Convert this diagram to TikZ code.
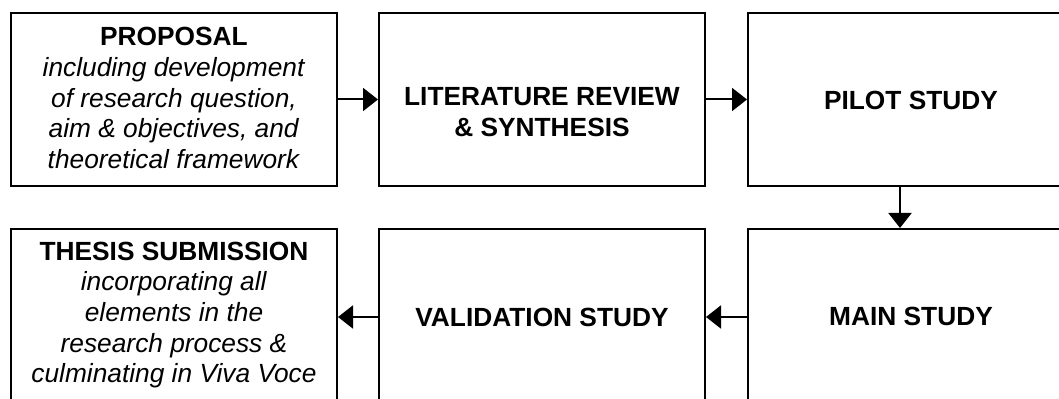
\documentclass[tikz,border=0pt]{standalone}
\usepackage{fontspec}
\setmainfont{Liberation Sans}
\usetikzlibrary{arrows.meta}
\begin{document}
\begin{tikzpicture}[x=0.5pt,y=-0.5pt,
  stage/.style={draw=black, line width=1pt, minimum width=163pt, inner sep=0pt},
  toprow/.style={stage, minimum height=86.5pt},
  botrow/.style={stage, minimum height=88pt},
  caption/.style={align=center, font=\fontsize{13.15pt}{15.3pt}\selectfont, inner sep=0pt},
  flow/.style={draw=black, line width=1pt, -{Triangle[length=7.5pt,width=11.5pt]}}]
\useasboundingbox (0,0) rectangle (1059,399);

% process stages, top row left to right, bottom row right to left
\node[toprow] (prop)   at (174,99.5) {};
\node[toprow] (lit)    at (542,99.5) {};
\node[toprow] (pilot)  at (911,99.5) {};
\node[botrow] (thesis) at (174,317) {};
\node[botrow] (valid)  at (542,317) {};
\node[botrow] (main)   at (911,317) {};

% stage texts
\node[caption] (prop-t) at (174,98) {\textbf{PROPOSAL}\\
  \textit{including development}\\
  \textit{of research question,}\\
  \textit{aim \& objectives, and}\\
  \textit{theoretical framework}};
\node[caption] (lit-t) at (542,112) {\textbf{LITERATURE REVIEW}\\\textbf{\& SYNTHESIS}};
\node[caption] (pilot-t) at (911,100) {\textbf{PILOT STUDY}};
\node[caption] (thesis-t) at (174,315) {\textbf{THESIS SUBMISSION}\\
  \textit{incorporating all}\\
  \textit{elements in the}\\
  \textit{research process \&}\\
  \textit{culminating in Viva Voce}};
\node[caption] (valid-t) at (542,317.5) {\textbf{VALIDATION STUDY}};
\node[caption] (main-t) at (911,316.5) {\textbf{MAIN STUDY}};

% flow between stages
\draw[flow] (prop.east) -- (lit.west);
\draw[flow] (lit.east) -- (pilot.west);
\draw[flow] ([xshift=-5.5pt]pilot.south) -- ([xshift=-5.5pt]main.north);
\draw[flow] (main.west) -- (valid.east);
\draw[flow] (valid.west) -- (thesis.east);
\end{tikzpicture}
\end{document}
